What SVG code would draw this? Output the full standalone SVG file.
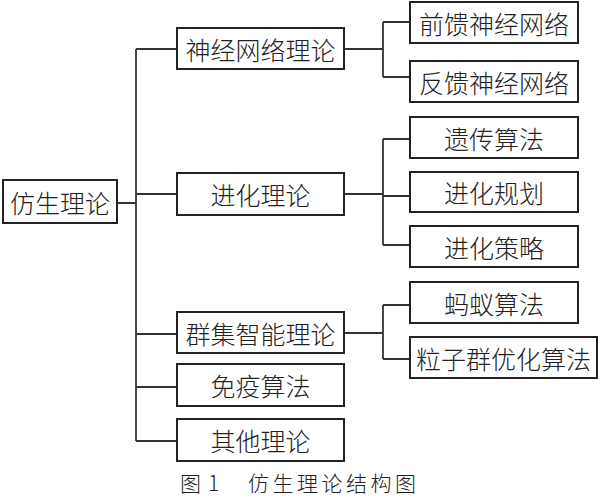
<svg xmlns="http://www.w3.org/2000/svg" width="600" height="498" viewBox="0 0 600 498">
<style>
.b{fill:#fff;stroke:#222;stroke-width:2}
.t{font-family:"Noto Sans CJK SC","Noto Sans CJK JP",sans-serif;font-size:25px;font-weight:300;fill:#222;text-anchor:middle;dominant-baseline:central}
.c{fill:none;stroke:#333;stroke-width:1.8}
.cap{font-family:"Noto Sans CJK SC",sans-serif;font-size:21px;font-weight:300;fill:#222}
</style>
<rect width="600" height="498" fill="#fff"/>
<g id="connectors">
<path class="c" d="M117 203H136M136 49V441M136 49H177M136 194H177M136 334H177M136 387H177M136 441H177"/>
<path class="c" d="M344 49H383M383 22V77M383 22H410M383 77H410"/>
<path class="c" d="M344 194H383M383 139V245M383 139H410M383 196H410M383 245H410"/>
<path class="c" d="M344 333H383M383 305V359M383 305H410M383 359H410"/>
</g>
<g id="root"><rect class="b" x="3" y="180" width="114" height="43"/><text class="t" x="60" y="201.5">仿生理论</text></g>
<g id="n1"><rect class="b" x="177" y="28" width="167" height="41"/><text class="t" x="260.5" y="48.5">神经网络理论</text></g>
<g id="n2"><rect class="b" x="177" y="173" width="167" height="42"/><text class="t" x="260.5" y="194">进化理论</text></g>
<g id="n3"><rect class="b" x="177" y="312" width="167" height="41"/><text class="t" x="260.5" y="332.5">群集智能理论</text></g>
<g id="n4"><rect class="b" x="177" y="364" width="167" height="42"/><text class="t" x="260.5" y="385">免疫算法</text></g>
<g id="n5"><rect class="b" x="177" y="419" width="167" height="42"/><text class="t" x="260.5" y="440">其他理论</text></g>
<g id="n11"><rect class="b" x="410" y="2" width="168" height="41"/><text class="t" x="494" y="22.5">前馈神经网络</text></g>
<g id="n12"><rect class="b" x="410" y="61" width="168" height="41"/><text class="t" x="494" y="81.5">反馈神经网络</text></g>
<g id="n21"><rect class="b" x="410" y="117" width="168" height="41"/><text class="t" x="494" y="137.5">遗传算法</text></g>
<g id="n22"><rect class="b" x="410" y="172" width="168" height="40"/><text class="t" x="494" y="192">进化规划</text></g>
<g id="n23"><rect class="b" x="410" y="226" width="168" height="41"/><text class="t" x="494" y="246.5">进化策略</text></g>
<g id="n31"><rect class="b" x="410" y="282" width="168" height="41"/><text class="t" x="494" y="302.5">蚂蚁算法</text></g>
<g id="n32"><rect class="b" x="410" y="337" width="187" height="41"/><text class="t" x="503.5" y="357.5">粒子群优化算法</text></g>
<text class="cap" x="180" y="491">图 <tspan x="208">1</tspan></text>
<text class="cap" x="248" y="491" letter-spacing="3.5">仿生理论结构图</text>
</svg>
